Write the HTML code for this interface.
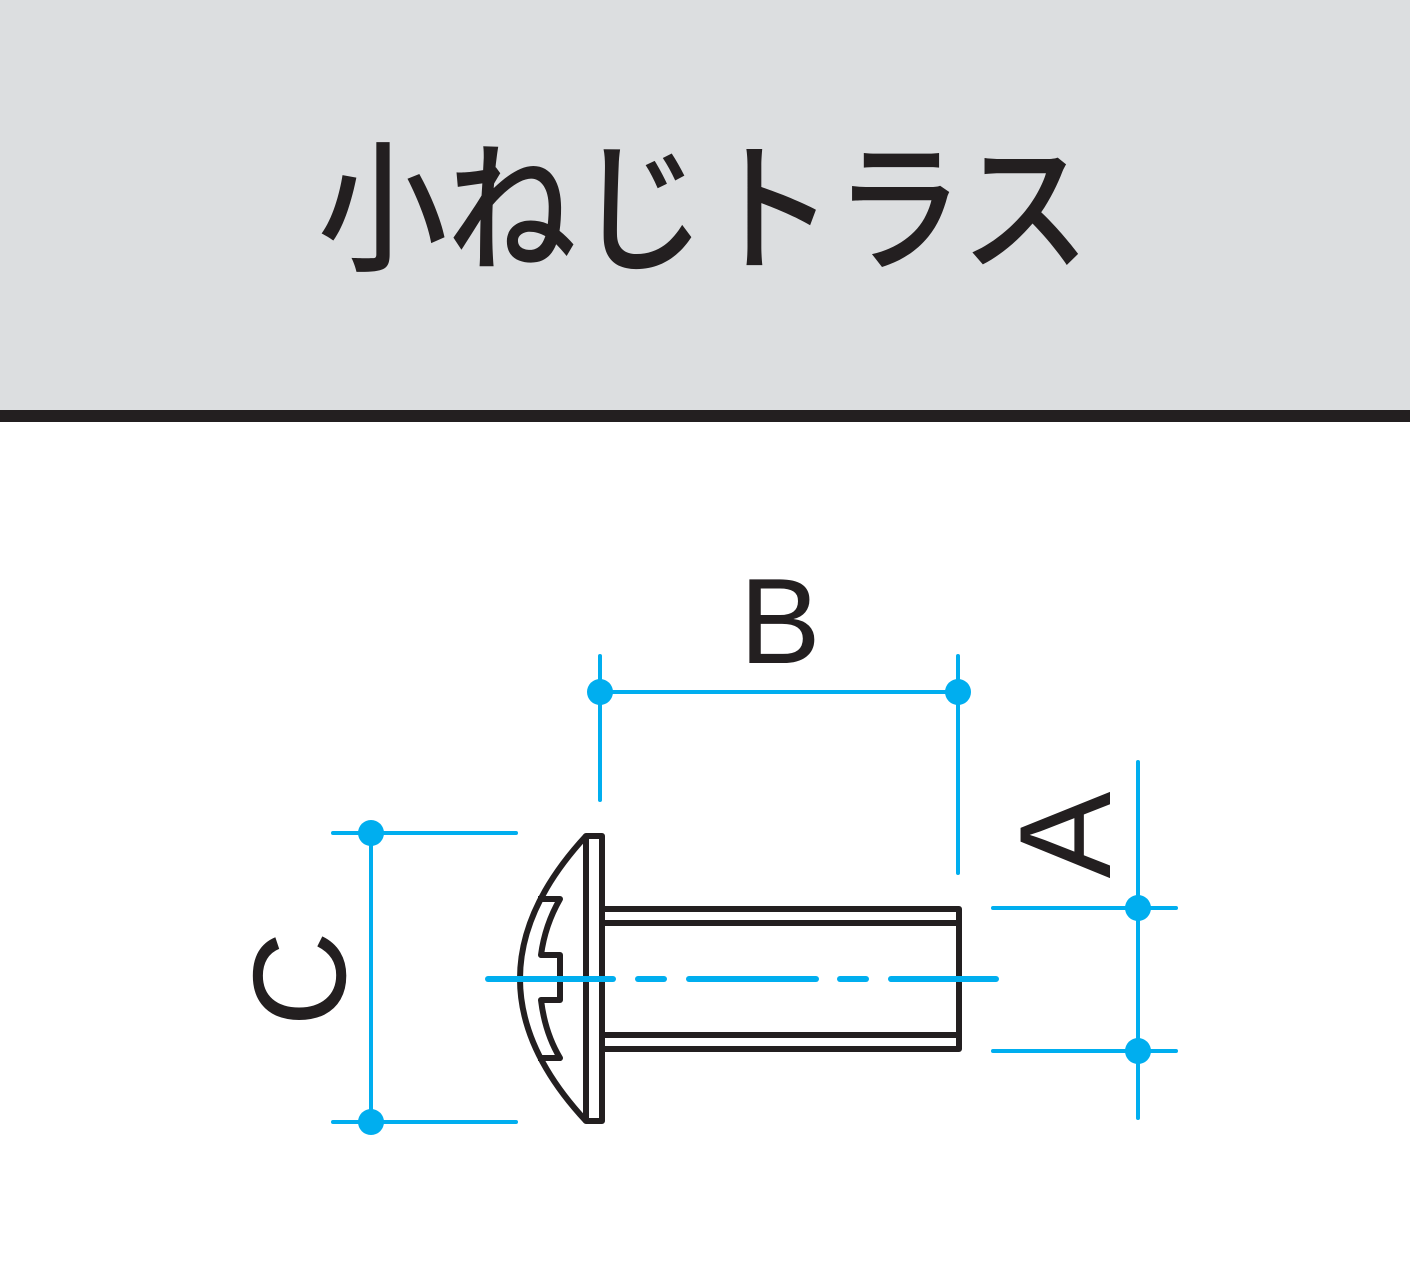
<!DOCTYPE html>
<html><head><meta charset="utf-8"><style>
html,body{margin:0;padding:0;background:#fff;}
svg{display:block}
</style></head><body>
<svg width="1410" height="1266" viewBox="0 0 1410 1266" xmlns="http://www.w3.org/2000/svg">
<rect x="0" y="0" width="1410" height="410" fill="#dcdee0"/>
<rect x="0" y="410" width="1410" height="12" fill="#231f20"/>
<text x="318" y="260" font-family="'Liberation Sans','Noto Sans CJK JP',sans-serif" font-size="142" font-weight="500" fill="#231f20" textLength="772" lengthAdjust="spacingAndGlyphs">小ねじトラス</text>

<g stroke="#00aeef" stroke-width="4" fill="none" stroke-linecap="round">
<line x1="600" y1="656" x2="600" y2="800"/>
<line x1="958" y1="656" x2="958" y2="873"/>
<line x1="600" y1="692" x2="958" y2="692"/>
<line x1="333" y1="833" x2="516" y2="833"/>
<line x1="333" y1="1122" x2="516" y2="1122"/>
<line x1="371" y1="833" x2="371" y2="1122"/>
<line x1="993" y1="908" x2="1176" y2="908"/>
<line x1="993" y1="1051" x2="1176" y2="1051"/>
<line x1="1138" y1="762" x2="1138" y2="1118"/>
</g>
<g fill="#00aeef">
<circle cx="600" cy="692" r="13"/><circle cx="958" cy="692" r="13"/>
<circle cx="371" cy="833" r="13"/><circle cx="371" cy="1122" r="13"/>
<circle cx="1138" cy="908" r="13"/><circle cx="1138" cy="1051" r="13"/>
</g>

<g stroke="#231f20" stroke-width="6" fill="none" stroke-linejoin="round">
<rect x="586" y="836" width="16" height="285"/>
<path d="M586 836 Q 454 979 586 1121"/>
<rect x="602" y="909" width="357" height="140"/>
<line x1="602" y1="923" x2="959" y2="923"/>
<line x1="602" y1="1035" x2="959" y2="1035"/>
<path d="M538 899 L560 899 Q 545 925 541 955 L560 955 L560 1000 L541 1000 Q 545 1033 560 1058 L538 1058"/>
</g>
<g stroke="#00aeef" stroke-width="6" stroke-linecap="round">
<line x1="488" y1="979" x2="613" y2="979"/>
<line x1="638" y1="979" x2="664" y2="979"/>
<line x1="689" y1="979" x2="816" y2="979"/>
<line x1="840" y1="979" x2="866" y2="979"/>
<line x1="891" y1="979" x2="996" y2="979"/>
</g>

<g font-family="'Liberation Sans',sans-serif" fill="#231f20" text-anchor="middle">
<text x="780" y="663" font-size="122">B</text>
<text transform="translate(1110,835) rotate(-90)" x="0" y="0" font-size="130">A</text>
<text transform="translate(345,979) rotate(-90)" x="0" y="0" font-size="132">C</text>
</g>
</svg>
</body></html>
